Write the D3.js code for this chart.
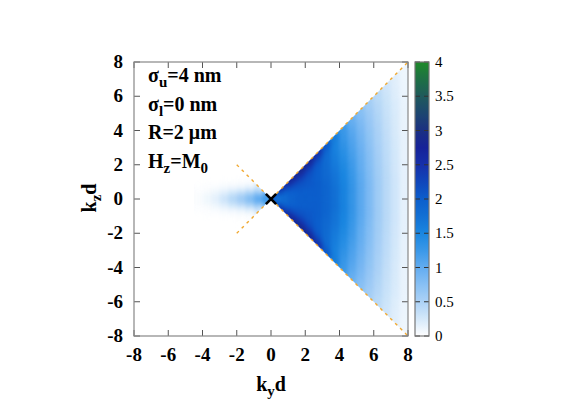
<!DOCTYPE html>
<html><head><meta charset="utf-8">
<script src="https://cdn.jsdelivr.net/npm/d3@7"></script>
<style>
body{margin:0;background:#fff;}
</style></head>
<body><svg id="chart" width="572" height="401"></svg>
<script>
// ---- data ----
const xTicks = [-8,-6,-4,-2,0,2,4,6,8];
const yTicks = [-8,-6,-4,-2,0,2,4,6,8];
const cbTicks = [0,0.5,1,1.5,2,2.5,3,3.5,4];
const cbTickLabels = ["0","0.5","1","1.5","2","2.5","3","3.5","4"];
// bins of ky (right cone) and of t = |kz|/|ky|
const kyBinsRight = [0,0.5,1,1.5,2,2.5,3,3.5,4,4.5,5,5.5,6,6.5,7,7.5,8];
const kyBinsLeft = [0,-0.5,-1,-1.5,-2,-2.5,-3,-3.5,-4,-4.5];
const tBins = [0,0.1,0.2,0.3,0.4,0.5,0.6,0.7,0.8,0.9,1.0];
// rows: t bins, columns: ky bins
const valuesRight = [
 [1.6,1.8,1.95,2.0,2.0,2.0,1.9,1.75,1.55,1.3,1.05,0.82,0.6,0.42,0.28,0.15],
 [1.6,1.8,1.95,2.0,2.0,2.0,1.9,1.75,1.55,1.3,1.05,0.82,0.6,0.42,0.28,0.15],
 [1.65,1.85,1.95,2.0,2.0,2.0,1.9,1.72,1.52,1.28,1.03,0.8,0.58,0.41,0.27,0.15],
 [1.7,1.9,2.0,2.05,2.05,2.0,1.88,1.7,1.5,1.25,1.0,0.78,0.57,0.4,0.26,0.14],
 [1.75,1.95,2.05,2.1,2.05,1.98,1.85,1.67,1.46,1.22,0.98,0.76,0.55,0.39,0.25,0.14],
 [1.85,2.0,2.15,2.15,2.1,1.98,1.83,1.63,1.42,1.18,0.95,0.73,0.53,0.37,0.24,0.13],
 [1.95,2.1,2.25,2.25,2.15,2.0,1.82,1.6,1.38,1.14,0.91,0.7,0.51,0.35,0.23,0.13],
 [2.05,2.25,2.4,2.4,2.25,2.05,1.82,1.57,1.33,1.1,0.87,0.66,0.48,0.33,0.22,0.12],
 [2.2,2.45,2.6,2.6,2.45,2.2,1.88,1.56,1.28,1.05,0.82,0.62,0.45,0.31,0.2,0.11],
 [2.3,2.65,2.85,2.9,2.8,2.5,2.05,1.6,1.25,0.98,0.76,0.57,0.41,0.28,0.18,0.1]
];
const valuesLeft = [
 [1.3,1.04,0.79,0.585,0.43,0.28,0.15,0.08,0.03],
 [1.29,1.01,0.71,0.48,0.31,0.17,0.08,0.03,0.01],
 [1.28,0.93,0.58,0.32,0.16,0.07,0.02,0.01,0],
 [1.26,0.84,0.42,0.17,0.06,0.015,0,0,0],
 [1.23,0.72,0.28,0.08,0.015,0,0,0,0],
 [1.19,0.6,0.17,0.03,0,0,0,0,0],
 [1.14,0.48,0.09,0.01,0,0,0,0,0],
 [1.08,0.37,0.04,0,0,0,0,0,0],
 [1.02,0.27,0.02,0,0,0,0,0,0],
 [0.96,0.2,0.01,0,0,0,0,0,0]
];
const guideLines = [[[-2,-2],[8,8]],[[-2,2],[8,-8]]];
const marker = [0,0];
const paletteStops = [0,0.25,0.5,0.75,1,1.25,1.5,1.75,2,2.25,2.5,2.75,3,3.25,3.5,3.75,4];
const paletteColors = ["#ffffff","#d4e8fa","#acd2f6","#88c0f4","#62acf0","#3a98e8","#1a86e0","#1270d4","#0c5ecc","#1046bb","#1630aa","#162299","#1b3082","#1d4670","#1f5a5c","#1e7044","#1e8a2a"];
const annotations = [
 {main:"σ", sub:"u", rest:"=4 nm"},
 {main:"σ", sub:"l", rest:"=0 nm"},
 {main:"R=2 μm", sub:"", rest:""},
 {main:"H", sub:"z", rest:"=M", sub2:"0"}
];

// ---- layout ----
const FONT = '"Liberation Serif"';
const svg = d3.select("#chart");
const L=134, R=408, T=62, B=336;
const x = d3.scaleLinear().domain([-8,8]).range([L,R]);
const y = d3.scaleLinear().domain([-8,8]).range([B,T]);
const color = d3.scaleLinear().domain(paletteStops).range(paletteColors).clamp(true);

const defs = svg.append("defs");
const f = defs.append("filter").attr("id","smooth").attr("color-interpolation-filters","sRGB")
  .attr("x","-10%").attr("y","-10%").attr("width","120%").attr("height","120%");
f.append("feGaussianBlur").attr("stdDeviation",2.2);
f.append("feComponentTransfer").append("feFuncA").attr("type","linear").attr("slope",60);

defs.append("clipPath").attr("id","clipR").append("polygon")
  .attr("points",[[0,0],[8,8],[8,-8]].map(p=>[x(p[0]),y(p[1])].join(",")).join(" "));
defs.append("clipPath").attr("id","clipL").append("polygon")
  .attr("points",[[0,0],[-4.5,4.5],[-4.5,-4.5]].map(p=>[x(p[0]),y(p[1])].join(",")).join(" "));

function cells(kyB, vals){
  const out=[];
  for(let i=0;i<tBins.length-1;i++){
    for(let j=0;j<kyB.length-1;j++){
      const a=kyB[j], b=kyB[j+1], t0=tBins[i], t1=tBins[i+1];
      for(const s of [1,-1]){
        out.push({v:vals[i][j], pts:[[a,s*t0*Math.abs(a)],[b,s*t0*Math.abs(b)],[b,s*t1*Math.abs(b)],[a,s*t1*Math.abs(a)]]});
      }
    }
  }
  return out;
}
function drawField(id, kyB, vals){
  const g = svg.append("g").attr("clip-path",`url(#${id})`).append("g").attr("filter","url(#smooth)");
  g.selectAll("polygon").data(cells(kyB, vals)).join("polygon")
    .attr("points",d=>d.pts.map(p=>[x(p[0]),y(p[1])].join(",")).join(" "))
    .attr("fill",d=>color(d.v)).attr("stroke",d=>color(d.v)).attr("stroke-width",0.6);
}
drawField("clipR", kyBinsRight, valuesRight);
drawField("clipL", kyBinsLeft, valuesLeft);

// guide lines
svg.selectAll(".guide").data(guideLines).join("line").attr("class","guide")
  .attr("x1",d=>x(d[0][0])).attr("y1",d=>y(d[0][1])).attr("x2",d=>x(d[1][0])).attr("y2",d=>y(d[1][1]))
  .attr("stroke","#f0a830").attr("stroke-width",1.4).attr("stroke-dasharray","3,4");

// marker
svg.append("path").attr("d",d3.symbol(d3.symbolX,70)())
  .attr("transform",`translate(${x(marker[0])},${y(marker[1])})`)
  .attr("fill","none").attr("stroke","#000").attr("stroke-width",2.6);

// frame + ticks (mirrored, inward)
const tickLen=6, axisCol="#555";
const tk = svg.append("g").attr("stroke",axisCol).attr("stroke-width",1);
xTicks.forEach(v=>{
  tk.append("line").attr("x1",x(v)).attr("x2",x(v)).attr("y1",B).attr("y2",B-tickLen);
  tk.append("line").attr("x1",x(v)).attr("x2",x(v)).attr("y1",T).attr("y2",T+tickLen);
});
yTicks.forEach(v=>{
  tk.append("line").attr("y1",y(v)).attr("y2",y(v)).attr("x1",L).attr("x2",L+tickLen);
  tk.append("line").attr("y1",y(v)).attr("y2",y(v)).attr("x1",R).attr("x2",R-tickLen);
});
svg.append("rect").attr("x",L).attr("y",T).attr("width",R-L).attr("height",B-T)
  .attr("fill","none").attr("stroke","#888").attr("stroke-width",1.2);

// tick labels
svg.selectAll(".xl").data(xTicks).join("text").attr("class","xl").style("font-family",FONT)
  .attr("x",d=>x(d)).attr("y",361).attr("text-anchor","middle")
  .attr("font-size",19).attr("font-weight","bold").text(d=>d);
svg.selectAll(".yl").data(yTicks).join("text").attr("class","yl").style("font-family",FONT)
  .attr("x",123).attr("y",d=>y(d)+6).attr("text-anchor","end")
  .attr("font-size",19).attr("font-weight","bold").text(d=>d);

// axis titles
const xt = svg.append("text").style("font-family",FONT).attr("x",271).attr("y",391).attr("text-anchor","middle")
  .attr("font-size",20).attr("font-weight","bold");
xt.append("tspan").text("k");
xt.append("tspan").attr("dy",5).attr("font-size",15).text("y");
xt.append("tspan").attr("dy",-5).text("d");
const yt = svg.append("text").style("font-family",FONT).attr("transform","translate(96,198) rotate(-90)").attr("text-anchor","middle")
  .attr("font-size",20).attr("font-weight","bold");
yt.append("tspan").text("k");
yt.append("tspan").attr("dy",5).attr("font-size",15).text("z");
yt.append("tspan").attr("dy",-5).text("d");

// annotations
annotations.forEach((a,i)=>{
  const t = svg.append("text").style("font-family",FONT).attr("x",148).attr("y",82+i*28.7).attr("font-size",20).attr("font-weight","bold");
  t.append("tspan").text(a.main);
  if(a.sub){ t.append("tspan").attr("dy",5).attr("font-size",15).text(a.sub); }
  if(a.rest){ t.append("tspan").attr("dy",a.sub?-5:0).text(a.rest); }
  if(a.sub2){ t.append("tspan").attr("dy",5).attr("font-size",15).text(a.sub2); }
});

// colorbar
const cbL=415, cbR=429;
const cy = d3.scaleLinear().domain([0,4]).range([B,T]);
const grad = defs.append("linearGradient").attr("id","cbgrad").attr("x1",0).attr("x2",0).attr("y1",1).attr("y2",0);
d3.range(0,4.001,0.05).forEach(v=>grad.append("stop").attr("offset",v/4).attr("stop-color",color(v)));
svg.append("rect").attr("x",cbL).attr("y",T).attr("width",cbR-cbL).attr("height",B-T).attr("fill","url(#cbgrad)");
const ct = svg.append("g").attr("stroke","#333").attr("stroke-width",1);
cbTicks.forEach(v=>{
  ct.append("line").attr("x1",cbL).attr("x2",cbL+5).attr("y1",cy(v)).attr("y2",cy(v));
  ct.append("line").attr("x1",cbR).attr("x2",cbR-5).attr("y1",cy(v)).attr("y2",cy(v));
});
svg.append("rect").attr("x",cbL).attr("y",T).attr("width",cbR-cbL).attr("height",B-T)
  .attr("fill","none").attr("stroke","#777").attr("stroke-width",1.2);
svg.selectAll(".cl").data(cbTicks).join("text").attr("class","cl").style("font-family",FONT)
  .attr("x",435).attr("y",d=>cy(d)+5).attr("font-size",15).text((d,i)=>cbTickLabels[i]);
</script></body></html>
